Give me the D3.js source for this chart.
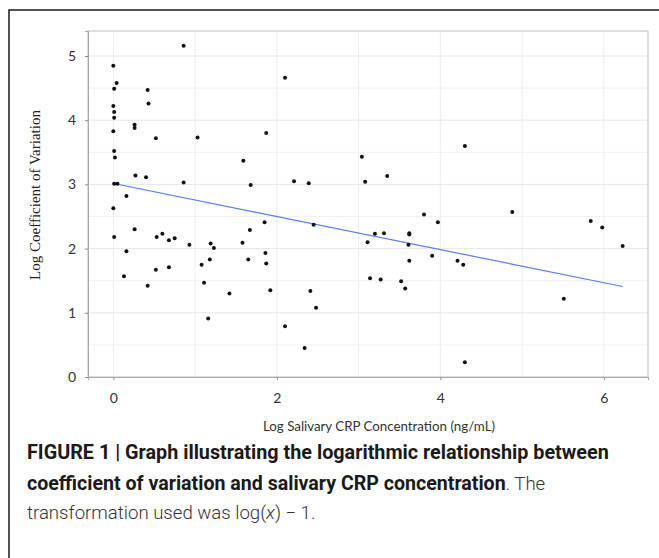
<!DOCTYPE html>
<html>
<head>
<meta charset="utf-8">
<script src="https://cdn.jsdelivr.net/npm/d3@7"></script>
<style>
  html, body { margin: 0; padding: 0; background: #fff; }
  svg { display: block; }
</style>
</head>
<body>
<svg id="chart" width="659" height="558"></svg>
<script>
// ---- data ----
const xValues = [
  0.86, 0.00, 0.04, 0.01, 0.42, 0.43, 0.00, 0.01, 0.01, 0.26, 0.26, 0.00, 0.52, 1.03, 1.87, 0.01, 0.02, 1.59, 0.27, 0.40, 0.86, 0.01, 0.05, 1.68, 0.16, 0.00,
  1.85, 0.26, 1.67, 0.01, 0.53, 0.60, 0.68, 0.75, 0.93, 1.19, 1.23, 1.58, 0.16, 1.86, 1.08, 1.18, 1.65, 1.87, 0.52, 0.68, 0.13, 1.11, 0.42, 1.42, 1.92, 1.16,
  2.10, 4.30, 3.04, 3.35, 2.21, 2.39, 3.08,
  3.80, 3.97, 2.45, 3.11, 3.20, 3.31, 3.62, 3.62, 3.61, 3.90, 4.21, 4.28, 3.62, 3.14, 3.27, 3.52, 3.57, 2.41, 2.48, 2.10, 2.34, 4.30,
  4.88, 5.84, 5.98, 6.23, 5.51
];
const yValues = [
  5.16, 4.85, 4.58, 4.49, 4.47, 4.26, 4.22, 4.13, 4.04, 3.93, 3.88, 3.83, 3.72, 3.73, 3.80, 3.52, 3.42, 3.37, 3.14, 3.11, 3.03, 3.01, 3.01, 2.99, 2.82, 2.63,
  2.41, 2.30, 2.29, 2.18, 2.18, 2.23, 2.13, 2.16, 2.06, 2.08, 2.01, 2.09, 1.96, 1.93, 1.75, 1.83, 1.83, 1.77, 1.67, 1.71, 1.57, 1.47, 1.42, 1.30, 1.35, 0.91,
  4.66, 3.60, 3.43, 3.13, 3.05, 3.02, 3.04,
  2.53, 2.41, 2.37, 2.10, 2.23, 2.24, 2.24, 2.22, 2.06, 1.89, 1.81, 1.75, 1.81, 1.54, 1.52, 1.49, 1.38, 1.34, 1.08, 0.79, 0.45, 0.23,
  2.57, 2.43, 2.33, 2.04, 1.22
];
const trendX = [0.02, 6.23];
const trendY = [3.01, 1.41];
const xTicks = [0, 2, 4, 6];
const yTicks = [0, 1, 2, 3, 4, 5];
const xGrid = [0, 1, 2, 3, 4, 5, 6];
const yGrid = [0.5, 1, 1.5, 2, 2.5, 3, 3.5, 4, 4.5, 5];
const xTitle = "Log Salivary CRP Concentration (ng/mL)";
const yTitle = "Log Coefficient of Variation";

// ---- layout ----
const svg = d3.select("#chart");
const L = 88, R = 648, T = 31, B = 377;
const x = d3.scaleLinear().domain([-0.31, 6.54]).range([L, R]);
const y = d3.scaleLinear().domain([0, 5.39]).range([B, T]);

// outer frame (cropped at right and bottom)
svg.append("rect")
  .attr("x", 9).attr("y", 10).attr("width", 700).attr("height", 600)
  .attr("fill", "none").attr("stroke", "#1a1a1a").attr("stroke-width", 1.5);

// gridlines
svg.append("g").selectAll("line").data(xGrid).join("line")
  .attr("x1", d => x(d)).attr("x2", d => x(d)).attr("y1", T).attr("y2", B)
  .attr("stroke", "#ececec").attr("stroke-width", 1);
svg.append("g").selectAll("line").data(yGrid).join("line")
  .attr("x1", L).attr("x2", R).attr("y1", d => y(d)).attr("y2", d => y(d))
  .attr("stroke", d => Number.isInteger(d) ? "#e6e6e6" : "#f1f1f1").attr("stroke-width", 1);

// plot box
svg.append("rect")
  .attr("x", L).attr("y", T).attr("width", R - L).attr("height", B - T)
  .attr("fill", "none").attr("stroke", "#bdbdbd").attr("stroke-width", 1);

// axes
const tickFont = "Lato, 'Open Sans', sans-serif";
const xAxis = d3.axisBottom(x).tickValues(xTicks).tickSize(3).tickPadding(13).tickFormat(d3.format("d"));
const gx = svg.append("g").attr("transform", `translate(0,${B})`).call(xAxis);
gx.select(".domain").attr("stroke", "#a8a8a8");
gx.selectAll(".tick line").attr("stroke", "#8a8a8a");
gx.selectAll(".tick text").attr("font-family", tickFont).attr("font-size", 14).attr("fill", "#333");

const yAxis = d3.axisLeft(y).tickValues(yTicks).tickSize(3).tickPadding(9).tickFormat(d3.format("d"));
const gy = svg.append("g").attr("transform", `translate(${L},0)`).call(yAxis);
gy.select(".domain").attr("stroke", "#a8a8a8");
gy.selectAll(".tick line").attr("stroke", "#8a8a8a");
gy.selectAll(".tick text").attr("font-family", tickFont).attr("font-size", 14).attr("fill", "#333");

// trend line
svg.append("path")
  .datum(trendX.map((d, i) => [d, trendY[i]]))
  .attr("d", d3.line().x(d => x(d[0])).y(d => y(d[1])))
  .attr("fill", "none").attr("stroke", "#5b7cf0").attr("stroke-width", 1.2);

// points
svg.append("g").selectAll("circle").data(xValues.map((d, i) => [d, yValues[i]])).join("circle")
  .attr("cx", d => x(d[0])).attr("cy", d => y(d[1])).attr("r", 2)
  .attr("fill", "#111");

// axis titles
svg.append("text")
  .attr("x", 379).attr("y", 431)
  .attr("text-anchor", "middle")
  .attr("font-family", tickFont).attr("font-size", 13.3).attr("fill", "#333")
  .text(xTitle);

svg.append("text")
  .attr("transform", "translate(40,195) rotate(-90)")
  .attr("text-anchor", "middle")
  .attr("font-family", "'Liberation Serif', 'Times New Roman', serif").attr("font-size", 15).attr("fill", "#222")
  .text(yTitle);

// caption
const capFont = "Roboto, 'Liberation Sans', Arial, sans-serif";
const cap = svg.append("g").attr("font-family", capFont).attr("fill", "#1a1a1a");
cap.append("text").attr("x", 27).attr("y", 459).attr("font-weight", 700).attr("font-size", 19.8)
  .text("FIGURE 1 | Graph illustrating the logarithmic relationship between");
const l2 = cap.append("text").attr("x", 27).attr("y", 490);
l2.append("tspan").attr("font-weight", 700).attr("font-size", 19.6).text("coefficient of variation and salivary CRP concentration");
l2.append("tspan").attr("font-weight", 300).attr("font-size", 18.6).attr("fill", "#333").text(". The");
const l3 = cap.append("text").attr("x", 27).attr("y", 519).attr("font-weight", 300).attr("font-size", 18.6).attr("fill", "#333");
l3.append("tspan").text("transformation used was log(");
l3.append("tspan").attr("font-style", "italic").text("x");
l3.append("tspan").text(") \u2212 1.");
</script>
</body>
</html>
